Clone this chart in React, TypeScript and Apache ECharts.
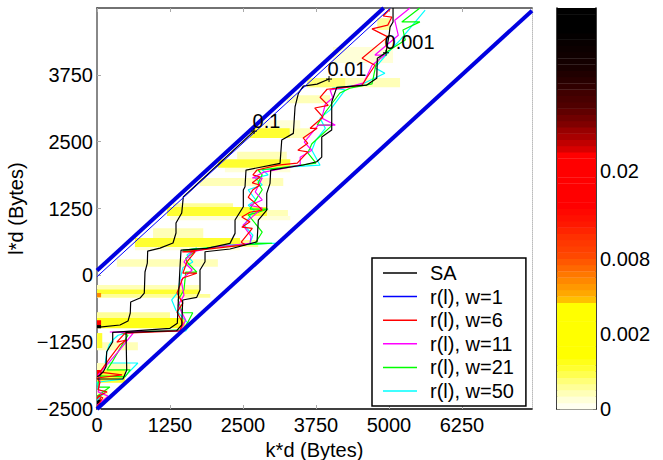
import React, { useEffect, useRef } from "react";
import * as echarts from "echarts";

const xTicks = [0, 1250, 2500, 3750, 5000, 6250];
const yTicks = [-2500, -1250, 0, 1250, 2500, 3750];
const colorbarTicks = [0, 12, 24, 38];
const colorbarLabels = ["0", "0.002", "0.008", "0.02"];

const colormap = [
  "#fffff0", "#ffffd8", "#ffffb8", "#ffff98", "#ffff78", "#ffff50", "#ffff30", "#ffff18",
  "#ffff00", "#ffff00", "#ffff00", "#ffff00", "#ffff00", "#ffff00", "#ffff00", "#ffff00",
  "#ffff00", "#ffc000", "#ffa800", "#ff9800", "#ff8800", "#ff7800", "#ff6800", "#ff5800",
  "#ff4800", "#ff4000", "#ff3800", "#ff3000", "#ff2400", "#ff1800", "#ff1000", "#ff0800",
  "#ff0000", "#ff0000", "#ff0000", "#ff0000", "#ff0000", "#ff0000", "#ff0000", "#ff0000",
  "#ff0000", "#d80000", "#c00000", "#a80000", "#980000", "#800000", "#700000", "#600000",
  "#500000", "#480000", "#400000", "#300000", "#280000", "#200000", "#180000", "#140000",
  "#100000", "#0c0000", "#080000", "#040000", "#000000", "#000000", "#000000", "#000000",
];

// xStart, xEnd, yLow, yHigh, colour level
const heatCells = [
  [0, 190, -2330, -2140, 2],
  [0, 480, -2010, -1770, 6],
  [0, 570, -1770, -1640, 2],
  [0, 700, -1400, -1250, 2],
  [0, 90, -1360, -1080, 6],
  [0, 1250, -800, -690, 3],
  [0, 1510, -990, -800, 7],
  [0, 1940, -420, -350, 3],
  [0, 1760, -350, -260, 6],
  [0, 1760, -260, -180, 2],
  [340, 2070, 160, 300, 2],
  [960, 1820, 700, 880, 2],
  [650, 2450, 470, 530, 1],
  [650, 2760, 530, 660, 3],
  [650, 2450, 530, 700, 6],
  [1250, 3310, 1030, 1110, 1],
  [1300, 2330, 1280, 1350, 3],
  [1340, 3270, 1110, 1220, 2],
  [1200, 2910, 1110, 1280, 6],
  [1760, 3190, 1670, 1820, 2],
  [2190, 3310, 1930, 2010, 1],
  [2400, 3250, 2170, 2310, 2],
  [2070, 3310, 2010, 2170, 6],
  [2830, 3480, 2750, 2900, 1],
  [2620, 3650, 2570, 2750, 2],
  [2620, 3300, 2570, 2750, 6],
  [3250, 3990, 3220, 3370, 2],
  [3600, 5190, 3520, 3690, 2],
  [3600, 4250, 3520, 3690, 4],
  [4040, 5070, 3970, 4270, 1],
  [4800, 5020, 4590, 4810, 3],
  [0, 70, -2430, -2330, 60],
  [0, 70, -2330, -2240, 33],
  [0, 70, -1900, -1770, 33],
  [0, 70, -930, -840, 33],
  [0, 70, -990, -930, 60],
  [0, 70, -410, -330, 20],
];

const saLow = [
  [0, -972], [394, -929], [531, -855], [570, -705], [577, -499], [737, -425], [810, -331],
  [822, 62], [862, 230], [868, 454], [1079, 510], [1302, 604], [1353, 791], [1353, 978],
  [1451, 1165], [1478, 1464], [2689, 2698],
];
const saMid = [
  [5, -1896], [51, -1864], [108, -1803], [154, -1709], [166, -1429], [269, -1242], [269, -1066],
  [1250, -991], [1376, -898], [1393, -462], [1422, 161], [1439, 473], [1879, 505], [2278, 598],
  [2364, 785], [2364, 1034], [2506, 1283], [2506, 1595], [2535, 1657], [2552, 1969], [3135, 2094],
  [3164, 2530], [3363, 2655], [3392, 3153], [3449, 3403], [3534, 3540], [3769, 3577], [3974, 3671],
];
const saHigh = [
  [5, -1939], [445, -1939], [509, -1771], [497, -1066], [1365, -1036], [1451, -929], [1468, -462],
  [1708, -411], [1764, -275], [1764, 99], [1850, 254], [1850, 441], [2278, 492], [2741, 628],
  [2763, 1034], [2907, 1221], [2907, 1533], [2963, 1720], [2975, 1969], [3534, 2063], [3763, 2124],
  [3849, 2212], [3849, 2586], [4020, 2717], [4020, 3241], [4106, 3516], [4620, 3559], [4791, 3684],
  [4801, 4058], [4950, 4163], [5002, 4494], [5019, 4643], [5070, 4737], [5070, 4999],
];

const boundUpper = [[0, 90], [4910, 5000]];
const boundLower = [[0, -2500], [7450, 4950]];
const rW1 = [[0, -25], [5025, 5000]];

const rW6 = [
  [0, -2460], [100, -2290], [20, -2260], [170, -2180], [20, -2140], [50, -2000], [0, -1920],
  [430, -1860], [50, -1810], [220, -1550], [390, -1300], [510, -1210], [340, -1250], [480, -1080],
  [1420, -1040], [1470, -890], [1370, -690], [1470, -520], [1370, -330], [1470, -50], [1710, 40],
  [1470, 40], [1540, 250], [1680, 440], [1460, 440], [1900, 490], [2540, 570], [2470, 620],
  [2660, 880], [2480, 900], [2620, 1000], [2480, 1090], [2620, 1180], [2830, 1220], [2710, 1350],
  [2590, 1460], [2670, 1600], [2790, 1690], [2660, 1730], [2790, 1840], [2670, 1880], [2740, 1970],
  [3100, 2060], [3430, 2100], [3610, 2310], [3440, 2340], [3610, 2470], [3530, 2570], [3770, 2750],
  [3650, 2750], [3870, 2960], [3730, 3130], [3960, 3180], [3820, 3330], [3940, 3480], [4280, 3520],
  [4540, 3560], [4760, 3930], [4540, 4060], [4980, 4460], [4710, 4610], [4980, 4680], [5050, 4830],
  [4900, 4850], [5020, 4980],
];
const rW11 = [
  [0, -2430], [190, -2260], [20, -2180], [50, -1960], [20, -1860], [360, -1430], [620, -1080],
  [220, -1060], [1420, -1040], [1520, -840], [1390, -560], [1490, -370], [1440, -90], [1630, 100],
  [1490, 250], [1630, 440], [2020, 530], [2620, 600], [2640, 730], [2500, 940], [2830, 1260],
  [2620, 1310], [2830, 1410], [2710, 1560], [2830, 1820], [2660, 1820], [2860, 1930], [3480, 2060],
  [3480, 2210], [3680, 2340], [3550, 2490], [3790, 2810], [4080, 2810], [3850, 2940], [3910, 3200],
  [4040, 3320], [3990, 3470], [4300, 3520], [4570, 3600], [4710, 3930], [4930, 4120], [4760, 4120],
  [5160, 4490], [5100, 4770], [5360, 5000],
];
const rW21 = [
  [0, -2260], [220, -2090], [20, -2090], [30, -1880], [480, -1900], [570, -1770], [170, -1770],
  [260, -1620], [430, -1300], [530, -1120], [390, -1060], [1470, -1020], [1560, -870], [1640, -700],
  [1460, -700], [1390, -460], [1490, -270], [1520, 60], [1710, 60], [1540, 250], [1520, 320],
  [1710, 470], [1470, 470], [2450, 570], [3000, 600], [2710, 600], [2830, 810], [2590, 1130],
  [2760, 1180], [2930, 1240], [2620, 1240], [2830, 1600], [2760, 1730], [2830, 1880], [2760, 1970],
  [3130, 2010], [3750, 2100], [3610, 2290], [3680, 2460], [4030, 2810], [3770, 2810], [3910, 3050],
  [4160, 3410], [4330, 3500], [4710, 3580], [4780, 3950], [4880, 4120], [5280, 4400], [5240, 4590],
  [5530, 4740], [5220, 4740], [5530, 5000],
];
const rW50 = [
  [0, -2340], [140, -2180], [20, -2140], [0, -2000], [430, -1940], [700, -1640], [140, -1640],
  [170, -1430], [210, -1300], [270, -1210], [360, -1120], [570, -1060], [1520, -1040], [1590, -930],
  [1350, -650], [1280, -460], [1390, -310], [1420, -90], [1470, 140], [1640, 250], [1540, 380],
  [1710, 510], [1460, 450], [2280, 570], [3080, 600], [2620, 600], [2670, 750], [2520, 940],
  [2690, 1220], [2590, 1310], [2720, 1410], [2590, 1600], [2830, 1690], [2710, 1820], [2930, 1880],
  [2830, 1970], [3310, 2030], [3820, 2060], [3680, 2340], [3750, 2530], [3910, 2750], [3820, 2940],
  [3990, 3090], [4250, 3470], [4030, 3500], [4510, 3560], [4930, 3780], [4760, 3880], [5020, 4210],
  [5190, 4400], [5620, 4960],
];

const contourMarks = [[2689, 2698], [3974, 3671], [4950, 4163]];
const contourTexts = ["0.1", "0.01", "0.001"];

const FONT = "'Liberation Sans', Arial, sans-serif";
const FS = 20;

const line = (name: string, data: number[][], color: string, width: number, z = 3) => ({
  name, type: "line", data, showSymbol: false, symbol: "none", z, silent: true,
  lineStyle: { color, width }, itemStyle: { color }, clip: true,
});

export default function App() {
  const ref = useRef<HTMLDivElement>(null);
  useEffect(() => {
    const chart = echarts.init(ref.current!, null, { renderer: "svg" });
    const minusFmt = (v: number) => String(v).replace("-", "\u2212");
    const tick = (vals: number[]) => ({
      show: true, inside: true, length: 4, customValues: vals,
      lineStyle: { color: "#aaaaaa", width: 1 },
    });
    chart.setOption({
      animation: false,
      backgroundColor: "#ffffff",
      textStyle: { fontFamily: FONT, fontSize: FS, color: "#000" },
      grid: [
        { left: 97, top: 8, width: 435, height: 401, outerBoundsMode: "none" },
        { left: 557, top: 8, width: 39, height: 401, outerBoundsMode: "none" },
      ],
      xAxis: [
        {
          type: "value", gridIndex: 0, min: 0, max: 7450, position: "bottom",
          name: "k*d (Bytes)", nameLocation: "middle", nameGap: 28,
          nameTextStyle: { fontFamily: FONT, fontSize: FS, color: "#000" },
          axisLine: { show: true, onZero: false, lineStyle: { color: "#000", width: 1.5 } },
          axisTick: tick(xTicks),
          axisLabel: { customValues: xTicks, formatter: minusFmt, fontFamily: FONT, fontSize: FS, color: "#000", margin: 6 },
          splitLine: { show: false },
        },
        {
          type: "value", gridIndex: 0, min: 0, max: 7450, position: "top",
          axisLine: { show: true, onZero: false, lineStyle: { color: "#444", width: 1.5 } },
          axisTick: tick(xTicks), axisLabel: { show: false }, splitLine: { show: false },
        },
        {
          type: "value", gridIndex: 1, min: 0, max: 1, position: "bottom",
          axisLine: { show: true, onZero: false, lineStyle: { color: "#000", width: 1.5 } },
          axisTick: { show: false }, axisLabel: { show: false }, splitLine: { show: false },
        },
      ],
      yAxis: [
        {
          type: "value", gridIndex: 0, min: -2500, max: 5000, position: "left",
          name: "l*d (Bytes)", nameLocation: "middle", nameGap: 63, nameRotate: 90,
          nameTextStyle: { fontFamily: FONT, fontSize: FS, color: "#000" },
          axisLine: { show: true, onZero: false, lineStyle: { color: "#888", width: 2 } },
          axisTick: tick(yTicks),
          axisLabel: { customValues: yTicks, formatter: minusFmt, fontFamily: FONT, fontSize: FS, color: "#000", margin: 4 },
          splitLine: { show: false },
        },
        {
          type: "value", gridIndex: 0, min: -2500, max: 5000, position: "right",
          axisLine: { show: true, onZero: false, lineStyle: { color: "#bbbbbb", width: 1, type: "dotted" } },
          axisTick: { show: false }, axisLabel: { show: false }, splitLine: { show: false },
        },
        {
          type: "value", gridIndex: 1, min: 0, max: 64, position: "right",
          axisLine: { show: true, onZero: false, lineStyle: { color: "#000", width: 1.5 } },
          axisTick: { show: true, inside: true, length: 3, customValues: colorbarTicks, lineStyle: { color: "#000", width: 1 } },
          axisLabel: {
            customValues: colorbarTicks, fontFamily: FONT, fontSize: FS, color: "#000", margin: 4,
            formatter: (v: number) => colorbarLabels[colorbarTicks.indexOf(v)] ?? "",
          },
          splitLine: { show: false },
        },
        {
          type: "value", gridIndex: 1, min: 0, max: 64, position: "left",
          axisLine: { show: true, onZero: false, lineStyle: { color: "#000", width: 1.5 } },
          axisTick: { show: true, inside: true, length: 3, customValues: colorbarTicks, lineStyle: { color: "#000", width: 1 } },
          axisLabel: { show: false }, splitLine: { show: false },
        },
      ],
      legend: {
        data: ["SA", "r(l), w=1", "r(l), w=6", "r(l), w=11", "r(l), w=21", "r(l), w=50"],
        orient: "vertical", left: 372, top: 258, width: 154,
        icon: "rect",
        itemWidth: 34, itemHeight: 1.5, itemGap: 3.6, align: "left",
        padding: [5, 12, 5, 11],
        backgroundColor: "#ffffff", borderColor: "#000", borderWidth: 1.5, borderRadius: 0,
        selectedMode: false,
        textStyle: { fontFamily: FONT, fontSize: FS, color: "#000", padding: [0, 0, 0, 8] },
      },
      series: [
        {
          name: "heat", type: "custom", xAxisIndex: 0, yAxisIndex: 0, z: 1, silent: true,
          data: heatCells,
          encode: { x: [0, 1], y: [2, 3] },
          renderItem: (_: any, api: any) => {
            const a = api.coord([api.value(0), api.value(3)]);
            const b = api.coord([api.value(1), api.value(2)]);
            return {
              type: "rect",
              shape: { x: a[0], y: a[1], width: b[0] - a[0], height: b[1] - a[1] },
              style: { fill: colormap[api.value(4)] },
            };
          },
        },
        line("r(l), w=50", rW50, "#00ffff", 1.2),
        line("r(l), w=21", rW21, "#00ff00", 1.2),
        line("r(l), w=11", rW11, "#ff00ff", 1.2),
        line("r(l), w=6", rW6, "#ff0000", 1.2),
        line("SA", saLow, "#000000", 1.2, 4),
        line("SA", saMid, "#000000", 1.2, 4),
        line("SA", saHigh, "#000000", 1.2, 4),
        line("r(l), w=1", rW1, "#0000ff", 1, 5),
        line("boundUpper", boundUpper, "#0000e0", 4, 5),
        line("boundLower", boundLower, "#0000e0", 4, 5),
        {
          name: "contours", type: "scatter", xAxisIndex: 0, yAxisIndex: 0, z: 6, silent: true,
          data: contourMarks,
          symbol: "path://M0 5H10M5 0V10",
          symbolSize: 6,
          itemStyle: { color: "none", borderColor: "#000", borderWidth: 1, opacity: 1 },
          label: {
            show: true, position: [4, -15], align: "left", verticalAlign: "top",
            fontFamily: FONT, fontSize: FS, color: "#000",
            formatter: (p: any) => contourTexts[p.dataIndex],
          },
        },
        {
          name: "colorbar", type: "custom", xAxisIndex: 2, yAxisIndex: 2, z: 1, silent: true,
          data: colormap.map((_, i) => [i]),
          encode: { y: 0 },
          renderItem: (_: any, api: any) => {
            const lvl = api.value(0);
            const a = api.coord([0, lvl + 1]);
            const b = api.coord([1, lvl]);
            return {
              type: "rect",
              shape: { x: a[0], y: a[1], width: b[0] - a[0], height: b[1] - a[1] + 0.4 },
              style: { fill: colormap[lvl] },
            };
          },
        },
      ],
    });
    return () => chart.dispose();
  }, []);
  return <div ref={ref} style={{ position: "fixed", left: 0, top: 0, width: 663, height: 460, background: "#fff" }} />;
}
